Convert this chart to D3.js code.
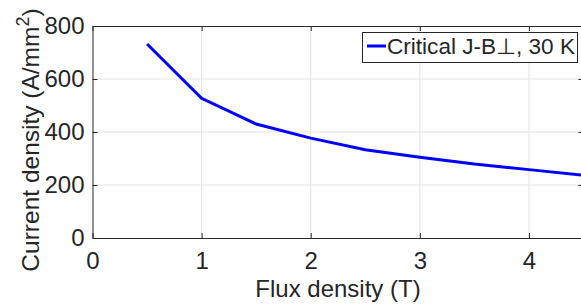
<!DOCTYPE html>
<html>
<head>
<meta charset="utf-8">
<script src="https://cdn.jsdelivr.net/npm/d3@7"></script>
<style>
  body { margin: 0; background: #fff; }
  #chart { width: 581px; height: 304px; }
  text { font-family: Arial, "Liberation Sans", sans-serif; fill: #262626; }
</style>
</head>
<body>
<div id="chart"></div>
<script>
// flux density (T) and critical current density (A/mm^2)
const fluxDensity = [0.5, 1, 1.5, 2, 2.5, 3, 3.5, 4, 4.5];
const currentDensity = [732, 527, 430, 377, 333, 305, 279, 258, 237];
const xTicks = [0, 1, 2, 3, 4];
const yTicks = [0, 200, 400, 600, 800];
const legendLabel = "Critical J-B\u22A5, 30 K";

const width = 581, height = 304;
const margin = {top: 26, left: 92.5, right: -2.5, bottom: 66};

const svg = d3.select("#chart")
    .append("svg")
    .attr("width", width)
    .attr("height", height);

const xScale = d3.scaleLinear()
    .domain([0, 4.5])
    .range([margin.left, width - margin.right]);

const yScale = d3.scaleLinear()
    .domain([0, 800])
    .range([height - margin.bottom, margin.top]);

/* grid */
svg.append("g")
    .selectAll("line")
    .data(xTicks.slice(1))
    .enter()
    .append("line")
        .attr("x1", d => xScale(d)).attr("x2", d => xScale(d))
        .attr("y1", yScale(0)).attr("y2", yScale(800))
        .attr("stroke", "#e3e3e3")
        .attr("stroke-width", 1);

svg.append("g")
    .selectAll("line")
    .data(yTicks.slice(1, -1))
    .enter()
    .append("line")
        .attr("x1", xScale(0)).attr("x2", xScale(4.5))
        .attr("y1", d => yScale(d)).attr("y2", d => yScale(d))
        .attr("stroke", "#e3e3e3")
        .attr("stroke-width", 1);

/* axes, ticks pointing inward like matlab */
const xAxis = svg.append("g")
    .attr("transform", `translate(0,${yScale(0)})`)
    .call(d3.axisBottom(xScale).tickValues(xTicks).tickFormat(d3.format("d"))
        .tickSize(-5).tickPadding(14).tickSizeOuter(0));

const yAxis = svg.append("g")
    .attr("transform", `translate(${xScale(0)},0)`)
    .call(d3.axisLeft(yScale).tickValues(yTicks).tickSize(-5).tickPadding(8).tickSizeOuter(0));

const xTop = svg.append("g")
    .attr("transform", `translate(0,${yScale(800)})`)
    .call(d3.axisTop(xScale).tickValues(xTicks).tickSize(-5).tickFormat("").tickSizeOuter(0));

const yRight = svg.append("g")
    .attr("transform", `translate(${xScale(4.5)},0)`)
    .call(d3.axisRight(yScale).tickValues(yTicks).tickSize(-5).tickFormat("").tickSizeOuter(0));

svg.selectAll(".domain, .tick line")
    .attr("stroke", "#262626")
    .attr("stroke-width", 1);

xAxis.selectAll("text")
    .attr("font-size", 24)
    .attr("fill", "#262626")
    .attr("dy", "0.71em");

yAxis.selectAll("text")
    .attr("font-size", 24)
    .attr("fill", "#262626");

/* line */
const line = d3.line()
    .x((d, i) => xScale(fluxDensity[i]))
    .y(d => yScale(d));

svg.append("path")
    .datum(currentDensity)
    .attr("d", line)
    .attr("fill", "none")
    .attr("stroke", "#0000ff")
    .attr("stroke-width", 3);

/* axis labels */
svg.append("text")
    .attr("x", (xScale(0) + xScale(4.5)) / 2)
    .attr("y", 297)
    .attr("text-anchor", "middle")
    .attr("font-size", 24)
    .text("Flux density (T)");

const yLabel = svg.append("text")
    .attr("transform", `translate(39,140) rotate(-90)`)
    .attr("text-anchor", "middle")
    .attr("font-size", 24.5);
yLabel.append("tspan").text("Current density (A/mm");
yLabel.append("tspan").attr("font-size", 18).attr("dy", -10).text("2");
yLabel.append("tspan").attr("dy", 10).text(")");

/* legend */
const legend = svg.append("g");
legend.append("rect")
    .attr("x", 362.5).attr("y", 32.5)
    .attr("width", 215).attr("height", 30)
    .attr("fill", "#fff")
    .attr("stroke", "#262626")
    .attr("stroke-width", 1);
legend.append("line")
    .attr("x1", 367).attr("x2", 386)
    .attr("y1", 46).attr("y2", 46)
    .attr("stroke", "#0000ff")
    .attr("stroke-width", 3);
legend.append("text")
    .attr("x", 387).attr("y", 54)
    .attr("font-size", 21.5)
    .attr("textLength", 188)
    .attr("lengthAdjust", "spacingAndGlyphs")
    .text(legendLabel);
</script>
</body>
</html>
